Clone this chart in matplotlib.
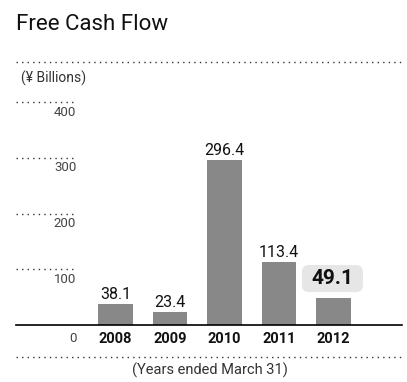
import matplotlib.pyplot as plt
from matplotlib.patches import FancyBboxPatch

years = ["2008", "2009", "2010", "2011", "2012"]
free_cash_flow = [38.1, 23.4, 296.4, 113.4, 49.1]
y_ticks = [0, 100, 200, 300, 400]

plt.rcParams['font.family'] = ['Roboto', 'DejaVu Sans']

fig = plt.figure(figsize=(4.07, 3.82), dpi=100)
W, H = 407, 382
# axes spans pixel x 16..402, y 102 (=400) .. 325 (=0)
ax = fig.add_axes([16 / W, (H - 325) / H, 386 / W, 223 / H])
xmin, xmax = -1.826, 5.257
ax.set_xlim(xmin, xmax)
ax.set_ylim(0, 400)
ax.axis('off')

x = list(range(len(years)))
ax.bar(x, free_cash_flow, width=0.64, color='#888888', zorder=2)

dots = dict(color='#333333', linestyle=(0, (1, 3)), linewidth=1.0)

# short dotted gridline markers with labels below
for t in y_ticks[1:]:
    ax.plot([xmin, -0.78], [t, t], clip_on=False, **dots)
    ax.annotate(str(t), (-0.72, t), xytext=(0, -10), textcoords='offset pixels',
                ha='right', va='center', fontsize=9.5, color='#444444')
ax.annotate("0", (-0.72, 0), xytext=(0, -14), textcoords='offset pixels',
            ha='right', va='center', fontsize=9.5, color='#444444')

# baseline
ax.plot([xmin, xmax], [0, 0], color='black', linewidth=1.2, clip_on=False, zorder=3)

# year labels
for xi, yr in zip(x, years):
    ax.annotate(yr, (xi, 0), xytext=(0, -14), textcoords='offset pixels',
                ha='center', va='center', fontsize=10.5, fontweight='bold', color='#111111')

# value labels
for xi, v in zip(x[:-1], free_cash_flow[:-1]):
    ax.annotate(f"{v:.1f}", (xi, v), xytext=(0, 9), textcoords='offset pixels',
                ha='center', va='center', fontsize=11.5, color='#111111')

# highlighted last value in a rounded grey box
v_last = free_cash_flow[-1]
aspect = (400 / 223) / (1 / 54.5)  # y data units per x data unit, same pixel length
ax.add_patch(FancyBboxPatch((x[-1] - 0.58, v_last + 10), 1.12, 48.5,
                            boxstyle='round,pad=0,rounding_size=0.13',
                            mutation_aspect=aspect,
                            fc='#e6e6e6', ec='none', clip_on=False, zorder=2))
ax.annotate(f"{v_last:.1f}", (x[-1] - 0.02, v_last + 34), ha='center', va='center',
            fontsize=15, fontweight='bold', color='#111111', zorder=4)

# top and bottom dotted rules
for yp in (62, 357):
    fig.add_artist(plt.Line2D([16 / W, 402 / W], [(H - yp) / H] * 2, **dots))

fig.text(16 / W, (H - 25) / H, "Free Cash Flow", fontsize=16, va='center', ha='left',
         color='#111111')
fig.text(21 / W, (H - 78) / H, "(¥ Billions)", fontsize=10, va='center', ha='left',
         color='#333333')
fig.text(210 / W, (H - 370) / H, "(Years ended March 31)", fontsize=10.5, va='center',
         ha='center', color='#333333')

fig.savefig("out.png", dpi=100)
